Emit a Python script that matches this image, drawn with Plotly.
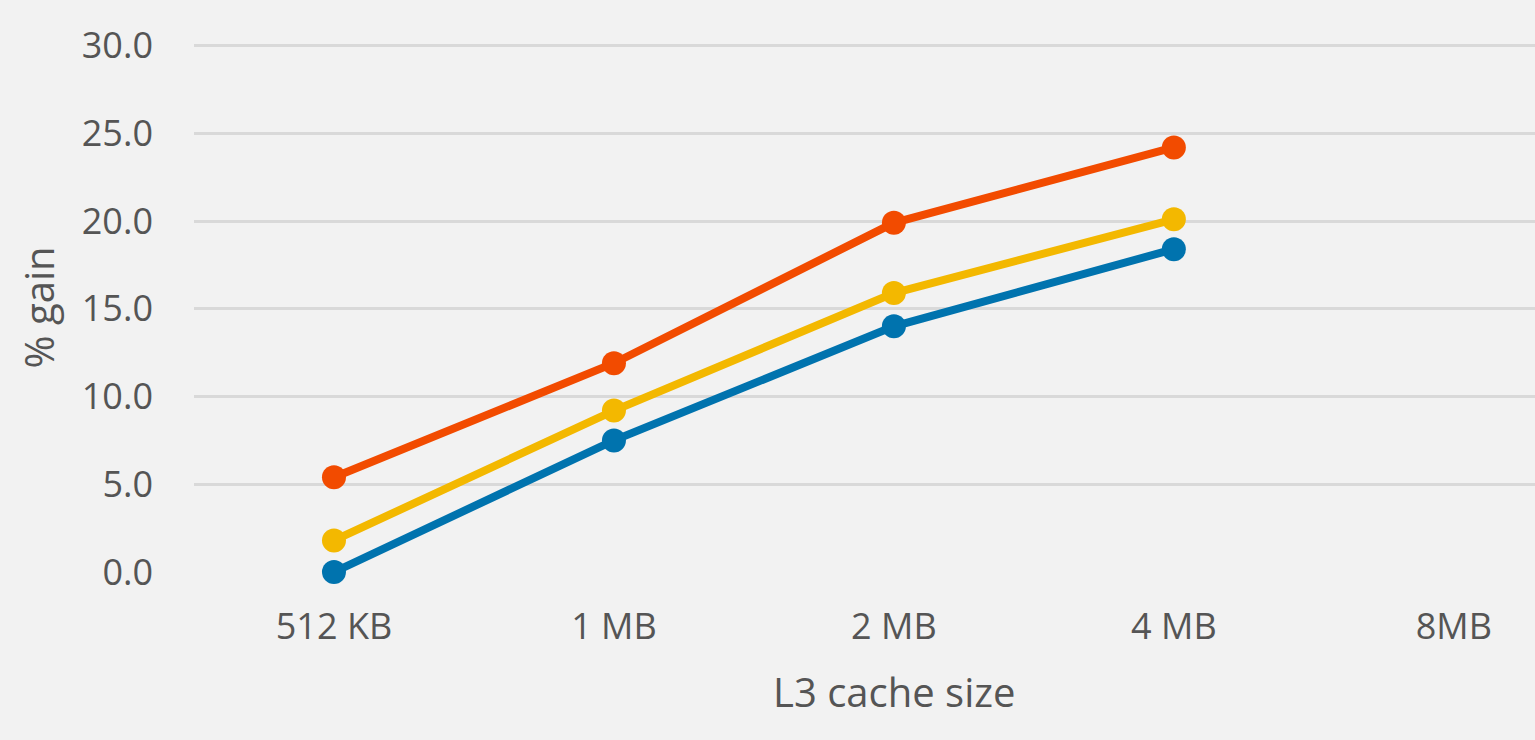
import plotly.graph_objects as go

categories = ["512 KB", "1 MB", "2 MB", "4 MB", "8MB"]
series_orange = [5.4, 11.9, 19.9, 24.2, None]
series_yellow = [1.8, 9.2, 15.9, 20.1, None]
series_blue = [0.0, 7.5, 14.0, 18.4, None]
y_ticks = [0, 5, 10, 15, 20, 25, 30]
y_tick_labels = [f"{v:.1f}" for v in y_ticks]

colors = {"orange": "#F24B00", "yellow": "#F3B800", "blue": "#0073AE"}

fig = go.Figure()
for name, vals in [("blue", series_blue), ("yellow", series_yellow), ("orange", series_orange)]:
    fig.add_trace(go.Scatter(
        x=categories, y=vals, mode="lines+markers", name=name,
        line=dict(color=colors[name], width=8),
        marker=dict(color=colors[name], size=24),
        showlegend=False, cliponaxis=False,
    ))

font_family = "Open Sans"
text_color = "#555555"
fig.update_layout(
    width=1535, height=740,
    paper_bgcolor="#f2f2f2", plot_bgcolor="#f2f2f2",
    margin=dict(l=194, r=0, t=43, b=168),
    font=dict(family=font_family, color=text_color, size=36),
    xaxis=dict(
        type="category", categoryorder="array", categoryarray=categories,
        range=[-0.5, 4.29], showgrid=False, zeroline=False, showline=False,
        ticks="", tickfont=dict(size=36, color=text_color),
        ticklabelstandoff=30,
    ),
    yaxis=dict(
        range=[0, 30.15], tickvals=y_ticks, ticktext=y_tick_labels,
        showgrid=True, gridcolor="#d9d9d9", gridwidth=2.5,
        zeroline=False, showline=False, ticks="",
        tickfont=dict(size=36, color=text_color),
        ticklabelstandoff=40,
        title=dict(text="% gain", font=dict(size=40, color=text_color), standoff=14),
    ),
    annotations=[dict(
        text="L3 cache size", xref="x", yref="paper", x=categories[2], y=-0.225,
        xanchor="center", yanchor="middle", showarrow=False,
        font=dict(size=40, color=text_color),
    )],
)

fig.write_html("out.html", config={"displayModeBar": False},
               post_script="document.body.style.margin='0';document.body.style.background='#f2f2f2';")
